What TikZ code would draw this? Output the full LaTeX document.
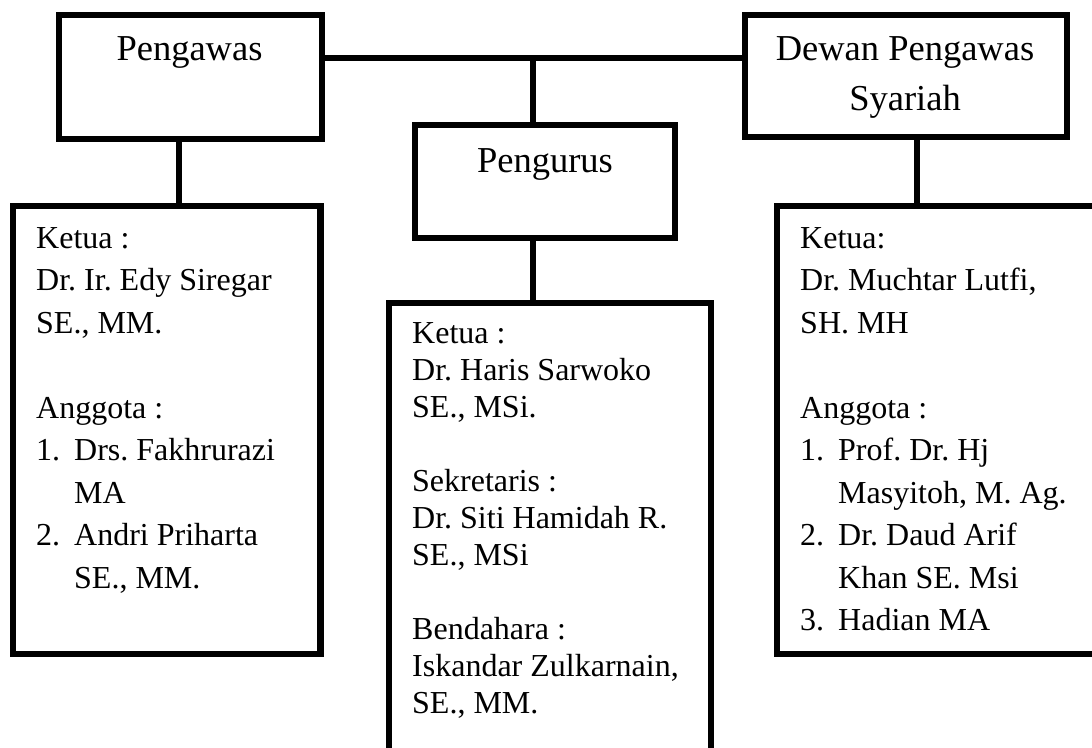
\documentclass[tikz,border=0pt]{standalone}
\usepackage{fontspec}
\setmainfont{Liberation Serif}
\frenchspacing
\begin{document}
\frenchspacing
\begin{tikzpicture}[x=1pt,y=-1pt,
  box/.style={draw=black, line width=6.5pt, rectangle, inner sep=0pt, outer sep=0pt},
  conn/.style={draw=black, line width=6.5pt},
  titletext/.style={font=\fontsize{36.5}{50}\selectfont, inner sep=0pt},
  bodytext/.style={font=\fontsize{32}{42.5}\selectfont, inner sep=0pt, align=left, anchor=north west},
  bodytight/.style={font=\fontsize{32}{37}\selectfont, inner sep=0pt, align=left, anchor=north west},
  ]
\useasboundingbox (0,0) rectangle (1092,747);
\clip (0,0) rectangle (1092,747);

% boxes
\node[box, minimum width=263pt, minimum height=124pt] (pengawas) at (190.5,77) {};
\node[box, minimum width=322pt, minimum height=122pt] (dewan) at (906,76) {};
\node[box, minimum width=260pt, minimum height=113pt] (pengurus) at (545,181.5) {};
\node[box, minimum width=307.5pt, minimum height=448pt] (lbox) at (166.75,430) {};
\node[box, minimum width=322pt, minimum height=477pt] (mbox) at (550,541.5) {};
\node[box, minimum width=343pt, minimum height=448pt] (rbox) at (948.5,430) {};

% connectors
\coordinate (j) at (533,58);
\coordinate (cl) at (179,0);
\coordinate (cr) at (917,0);
\draw[conn] (pengawas.east |- j) -- (dewan.west |- j);
\draw[conn] (j) -- (pengurus.north -| j);
\draw[conn] (pengurus.south -| j) -- (mbox.north -| j);
\draw[conn] (pengawas.south -| cl) -- (lbox.north -| cl);
\draw[conn] (dewan.south -| cr) -- (rbox.north -| cr);

% titles
\node[titletext, anchor=base] (tpengawas) at (189.5,60) {Pengawas};
\node[titletext, anchor=base] (tpengurus) at (545,172) {Pengurus};
\node[titletext, align=center, anchor=north] (tdewan) at (905,25) {\strut Dewan Pengawas\\Syariah};

% contents
\node[bodytext] (tleft) at (36,218.25) {\strut Ketua :\\
Dr. Ir. Edy Siregar\\
SE., MM.\\[42.5pt]
Anggota :\\
\makebox[38pt][l]{1.}Drs. Fakhrurazi\\
\hspace*{38pt}MA\\
\makebox[38pt][l]{2.}Andri Priharta\\
\hspace*{38pt}SE., MM.};

\node[bodytight] (tmid) at (412,317.1) {\strut Ketua :\\
Dr. Haris Sarwoko\\
SE., MSi.\\[37pt]
Sekretaris :\\
Dr. Siti Hamidah R.\\
SE., MSi\\[37pt]
Bendahara :\\
Iskandar Zulkarnain,\\
SE., MM.};

\node[bodytext] (tright) at (800,218.25) {\strut Ketua:\\
Dr. Muchtar Lutfi,\\
SH. MH\\[42.5pt]
Anggota :\\
\makebox[38pt][l]{1.}Prof. Dr. Hj\\
\hspace*{38pt}Masyitoh, M. Ag.\\
\makebox[38pt][l]{2.}Dr. Daud Arif\\
\hspace*{38pt}Khan SE. Msi\\
\makebox[38pt][l]{3.}Hadian MA};
\end{tikzpicture}
\end{document}
